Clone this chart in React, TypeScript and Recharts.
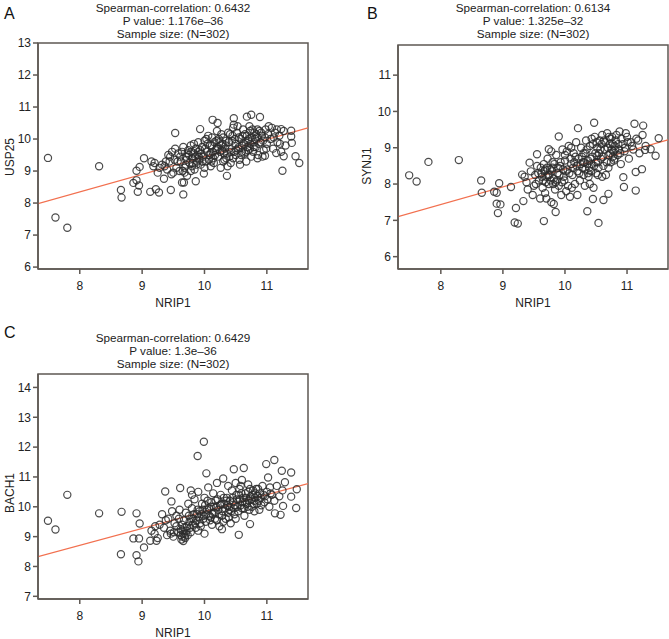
import React from 'react';
import { ScatterChart, Scatter, XAxis, YAxis, ReferenceLine, ReferenceArea } from 'recharts';

// NRIP1 vs USP25 (panel A)
const usp25Pairs: number[][] = [
  [7.49, 9.41], [7.61, 7.55], [7.8, 7.23], [8.31, 9.15], [8.66, 8.41], [8.67, 8.17], [8.86, 8.63],
  [8.93, 8.35], [8.95, 8.55], [8.91, 8.71], [8.91, 9.01], [8.96, 9.13], [9.03, 9.4], [9.13, 8.35],
  [9.22, 8.43], [9.27, 8.33], [9.35, 8.76], [9.46, 8.41], [9.53, 10.19], [9.66, 8.27], [9.64, 8.64],
  [9.67, 8.64], [9.86, 8.68], [9.99, 8.92], [9.93, 10.31], [10.13, 10.6], [10.21, 10.5], [10.36, 8.85],
  [10.47, 10.65], [10.68, 10.7], [10.75, 10.76], [10.89, 10.69], [10.97, 9.48], [11.15, 9.56],
  [11.25, 9.01], [11.27, 9.46], [11.39, 10.26], [11.4, 9.88], [11.46, 9.46], [11.52, 9.25],
  [11.39, 10.08], [11.23, 10.31],
  [9.15, 9.3], [9.2, 9.25], [9.25, 8.95], [9.28, 9.1], [9.18, 9.15],
  [9.32, 9.2], [9.38, 9.3], [9.4, 9.05], [9.45, 9.45], [9.48, 9.6], [9.5, 8.95], [9.52, 9.35],
  [9.55, 9.1], [9.58, 9.55], [9.6, 9.0], [9.42, 9.5], [9.36, 9.15], [9.47, 8.9],
  [9.62, 9.3], [9.64, 9.6], [9.66, 9.75], [9.68, 9.1], [9.7, 9.45], [9.72, 8.85], [9.74, 9.65],
  [9.76, 9.25], [9.78, 9.8], [9.8, 9.4], [9.82, 9.55], [9.84, 9.05], [9.86, 9.7], [9.88, 9.3],
  [9.9, 9.9], [9.65, 9.0], [9.7, 9.2], [9.75, 9.5], [9.8, 9.15], [9.85, 9.45], [9.9, 9.6],
  [9.68, 8.95], [9.78, 9.0],
  [9.92, 9.35], [9.94, 9.2], [9.96, 9.75], [9.98, 9.45], [10.0, 9.95], [10.02, 9.3], [10.04, 9.6],
  [10.06, 10.1], [10.08, 9.5], [10.1, 9.15], [10.12, 9.8], [10.14, 9.4], [10.16, 9.9], [10.18, 9.65],
  [10.2, 10.25], [9.95, 9.55], [10.0, 9.1], [10.05, 9.85], [10.1, 9.55], [10.15, 9.25], [10.2, 9.7],
  [10.03, 10.0], [10.12, 10.05],
  [10.22, 9.45], [10.24, 9.9], [10.26, 9.1], [10.28, 9.65], [10.3, 10.05], [10.32, 9.35], [10.34, 9.8],
  [10.36, 9.55], [10.38, 10.2], [10.4, 9.7], [10.42, 9.25], [10.44, 9.95], [10.46, 10.35], [10.48, 9.6],
  [10.5, 9.85], [10.25, 9.6], [10.3, 9.3], [10.35, 9.95], [10.4, 9.45], [10.45, 10.1], [10.5, 9.5],
  [10.27, 10.15], [10.37, 9.15], [10.47, 10.45], [10.33, 9.7],
  [10.52, 10.2], [10.54, 9.7], [10.56, 9.35], [10.58, 10.0], [10.6, 9.8], [10.62, 10.3], [10.64, 9.55],
  [10.66, 9.9], [10.68, 10.1], [10.7, 9.65], [10.72, 10.4], [10.74, 9.85], [10.76, 10.05], [10.78, 9.6],
  [10.8, 10.2], [10.55, 10.05], [10.6, 9.6], [10.65, 10.15], [10.7, 9.95], [10.75, 9.45], [10.8, 9.9],
  [10.57, 9.2], [10.67, 9.3], [10.73, 10.25],
  [10.82, 9.75], [10.84, 10.05], [10.86, 9.5], [10.88, 10.25], [10.9, 9.9], [10.92, 10.1], [10.95, 9.65],
  [10.98, 10.3], [11.0, 9.85], [11.03, 10.4], [11.06, 10.0], [11.1, 9.7], [11.13, 10.2], [11.17, 9.9],
  [11.2, 10.1], [11.23, 9.6], [11.27, 10.25], [11.3, 9.8], [10.85, 9.4], [10.93, 9.45], [11.08, 10.35],
  [10.21, 9.75], [10.23, 10.0], [10.29, 9.85], [10.31, 9.55], [10.39, 9.9], [10.41, 10.15], [10.43, 9.6],
  [10.49, 10.0], [10.51, 9.65], [10.53, 10.4], [10.59, 9.5], [10.61, 10.1], [10.63, 9.85], [10.69, 9.75],
  [10.71, 10.0], [10.77, 10.3], [10.79, 9.75], [10.81, 10.0], [10.83, 10.15], [10.87, 9.85], [10.91, 10.2],
  [10.94, 9.95], [10.97, 10.05], [10.99, 9.7], [11.02, 10.15], [11.11, 10.05], [11.16, 10.3], [11.21, 9.85],
  [9.91, 9.45], [9.93, 9.65], [9.97, 9.3], [10.01, 9.7], [10.07, 9.35], [10.09, 9.8], [10.11, 9.3],
  [10.17, 9.5], [10.19, 9.95], [9.71, 9.35], [9.73, 9.55], [9.79, 9.6], [9.81, 9.25], [9.83, 9.85],
  [9.87, 9.2], [9.89, 9.5], [9.57, 9.3], [9.61, 9.45], [9.53, 9.7], [9.44, 9.3], [10.46, 9.4],
  [10.55, 9.75], [10.66, 9.6], [10.85, 10.3], [10.73, 9.7], [10.35, 9.4], [10.27, 9.8], [10.13, 9.6],
];

// NRIP1 vs SYNJ1 (panel B)
const synj1Pairs: number[][] = [
  [7.49, 8.24], [7.61, 8.07], [7.8, 8.61], [8.29, 8.66], [8.65, 8.1], [8.66, 7.76], [8.86, 7.79],
  [8.9, 7.76], [8.94, 8.02], [8.9, 7.46], [8.96, 7.44], [8.92, 7.2], [9.13, 7.92], [9.21, 7.34],
  [9.19, 6.94], [9.24, 6.91], [9.33, 7.53], [9.31, 8.26], [9.43, 8.59], [9.55, 8.82], [9.66, 6.98],
  [9.74, 8.96], [9.82, 7.45], [9.85, 7.23], [9.9, 9.31], [10.21, 9.54], [10.36, 7.25], [10.47, 9.69],
  [10.52, 8.78], [10.54, 6.93], [10.45, 7.59], [10.62, 7.56], [10.7, 7.73], [10.95, 7.92], [10.94, 8.19],
  [11.14, 7.82], [11.12, 9.66], [11.26, 9.61], [11.14, 8.33], [11.24, 8.41], [11.46, 8.78], [11.51, 9.26],
  [11.38, 8.96], [11.29, 8.94],
  [9.35, 8.2], [9.4, 7.85], [9.45, 8.35], [9.5, 7.95], [9.55, 8.5], [9.58, 8.1], [9.38, 8.05],
  [9.48, 7.7], [9.52, 8.25], [9.6, 7.6],
  [9.62, 8.3], [9.64, 7.9], [9.66, 8.55], [9.68, 7.75], [9.7, 8.2], [9.72, 8.7], [9.74, 8.0],
  [9.76, 8.4], [9.78, 7.5], [9.8, 8.6], [9.82, 8.15], [9.84, 7.85], [9.86, 8.8], [9.88, 8.3],
  [9.9, 7.95], [9.65, 8.1], [9.7, 7.6], [9.75, 8.25], [9.8, 8.45], [9.85, 8.05], [9.68, 8.4], [9.78, 8.9],
  [9.92, 8.5], [9.94, 7.7], [9.96, 8.95], [9.98, 8.2], [10.0, 8.65], [10.02, 7.8], [10.04, 8.4],
  [10.06, 9.05], [10.08, 7.65], [10.1, 8.55], [10.12, 8.25], [10.14, 8.85], [10.16, 8.0], [10.18, 9.15],
  [10.2, 8.35], [9.95, 8.05], [10.0, 8.8], [10.05, 7.95], [10.1, 9.0], [10.15, 8.6], [10.2, 7.7],
  [10.22, 8.7], [10.24, 8.1], [10.26, 9.0], [10.28, 8.45], [10.3, 8.85], [10.32, 7.95], [10.34, 9.2],
  [10.36, 8.55], [10.38, 8.2], [10.4, 9.05], [10.42, 8.35], [10.44, 8.75], [10.46, 7.9], [10.48, 9.3],
  [10.5, 8.6], [10.25, 8.55], [10.3, 8.25], [10.35, 8.95], [10.4, 8.0], [10.45, 9.1], [10.5, 8.3],
  [10.27, 8.75], [10.37, 8.65], [10.43, 9.25], [10.33, 8.4],
  [10.52, 9.0], [10.54, 8.45], [10.56, 9.2], [10.58, 8.7], [10.6, 9.35], [10.62, 8.5], [10.64, 8.95],
  [10.66, 8.25], [10.68, 9.4], [10.7, 8.8], [10.72, 9.1], [10.74, 8.6], [10.76, 9.3], [10.78, 8.9],
  [10.8, 9.05], [10.55, 8.85], [10.6, 8.2], [10.65, 9.15], [10.7, 8.45], [10.75, 8.95], [10.8, 8.7],
  [10.73, 9.25], [10.77, 8.75],
  [10.82, 9.2], [10.85, 8.8], [10.88, 9.45], [10.9, 8.55], [10.93, 9.1], [10.96, 8.9], [11.0, 9.3],
  [11.03, 8.7], [11.06, 9.15], [11.1, 8.95], [11.15, 9.25], [11.2, 8.85], [11.25, 9.35], [11.3, 9.05],
  [10.87, 8.95], [10.98, 9.4], [11.08, 9.05], [11.18, 9.2],
  [10.31, 8.6], [10.33, 8.85], [10.39, 8.45], [10.41, 8.7], [10.47, 8.5], [10.49, 8.85], [10.51, 9.15],
  [10.53, 8.6], [10.57, 8.95], [10.59, 9.1], [10.61, 8.75], [10.63, 9.2], [10.67, 8.6], [10.69, 9.0],
  [10.71, 9.3], [10.73, 8.85], [10.77, 9.1], [10.79, 8.65], [10.81, 8.95], [10.83, 9.35], [10.86, 9.1],
  [10.89, 8.85], [10.91, 9.25], [10.97, 9.0], [11.01, 9.15], [9.63, 8.2], [9.67, 8.35], [9.69, 8.05],
  [9.71, 8.45], [9.73, 8.25], [9.77, 8.1], [9.79, 8.35], [9.81, 8.0], [9.83, 8.55], [9.87, 8.1],
  [9.89, 8.45], [9.91, 8.25], [9.93, 8.6], [9.97, 8.4], [9.99, 8.1], [10.01, 8.35], [10.03, 8.9],
  [10.07, 8.3], [10.09, 8.7], [10.11, 7.9], [10.13, 8.45], [10.17, 8.75], [10.19, 8.5], [10.23, 8.3],
  [10.29, 8.6], [9.57, 8.3], [9.53, 8.0], [9.61, 8.45], [10.43, 8.55], [10.37, 8.3], [10.53, 8.25],
];

// NRIP1 vs BACH1 (panel C)
const bach1Pairs: number[][] = [
  [7.49, 9.53], [7.61, 9.24], [7.8, 10.4], [8.31, 9.78], [8.67, 9.83], [8.66, 8.41], [8.91, 9.78],
  [8.96, 9.44], [8.86, 8.94], [8.95, 8.94], [8.91, 8.38], [8.94, 8.17], [9.03, 8.64], [9.13, 8.86],
  [9.21, 9.35], [9.23, 8.86], [9.37, 10.51], [9.47, 10.18], [9.61, 10.63], [9.89, 11.7], [9.99, 12.18],
  [10.03, 11.12], [10.47, 11.26], [10.63, 11.3], [10.55, 9.06], [10.73, 9.42], [10.99, 11.43],
  [11.12, 11.57], [11.02, 10.98], [11.24, 11.21], [11.29, 10.82], [11.39, 11.15], [11.48, 10.59],
  [11.47, 9.96], [11.39, 10.34], [11.22, 9.73], [11.13, 9.78], [11.26, 10.03],
  [9.15, 9.2], [9.25, 8.95], [9.28, 9.4], [9.2, 9.1],
  [9.32, 9.75], [9.35, 9.3], [9.4, 9.05], [9.42, 9.6], [9.45, 9.2], [9.48, 9.85], [9.5, 9.0],
  [9.52, 9.45], [9.55, 9.7], [9.58, 9.15], [9.6, 9.9], [9.38, 9.55], [9.46, 9.1],
  [9.62, 9.05], [9.63, 8.9], [9.65, 9.2], [9.66, 8.85], [9.67, 9.55], [9.68, 9.0], [9.7, 9.8],
  [9.72, 9.35], [9.74, 10.1], [9.76, 9.5], [9.78, 9.15], [9.8, 9.95], [9.82, 9.6], [9.84, 10.25],
  [9.86, 9.3], [9.88, 9.75], [9.9, 10.5], [9.64, 9.4], [9.7, 9.1], [9.75, 9.7], [9.8, 10.4],
  [9.85, 9.45], [9.9, 9.2], [9.78, 10.55],
  [9.92, 9.85], [9.94, 9.35], [9.96, 10.1], [9.98, 9.6], [10.0, 10.3], [10.02, 9.5], [10.04, 9.9],
  [10.06, 10.65], [10.08, 9.7], [10.1, 10.0], [10.12, 9.4], [10.14, 10.45], [10.16, 9.8], [10.18, 10.2],
  [10.2, 9.55], [9.95, 9.75], [10.0, 9.1], [10.05, 10.2], [10.1, 9.65], [10.15, 10.0], [10.2, 10.8],
  [10.22, 9.9], [10.24, 9.35], [10.26, 10.4], [10.28, 9.7], [10.3, 10.95], [10.32, 10.1], [10.34, 9.6],
  [10.36, 10.3], [10.38, 9.8], [10.4, 10.0], [10.42, 9.45], [10.44, 10.55], [10.46, 10.15], [10.48, 9.75],
  [10.5, 10.8], [10.25, 10.05], [10.3, 9.5], [10.35, 10.2], [10.4, 9.9], [10.45, 10.3], [10.5, 9.6],
  [10.28, 9.25], [10.38, 10.7], [10.47, 9.95],
  [10.52, 10.25], [10.54, 9.85], [10.56, 10.6], [10.58, 10.05], [10.6, 10.9], [10.62, 10.3], [10.64, 9.7],
  [10.66, 10.45], [10.68, 10.1], [10.7, 10.75], [10.72, 9.9], [10.74, 10.35], [10.76, 10.0], [10.78, 10.55],
  [10.8, 10.2], [10.55, 10.4], [10.6, 9.95], [10.65, 10.15], [10.7, 10.5], [10.75, 10.25], [10.8, 9.85],
  [10.58, 10.7],
  [10.82, 10.45], [10.84, 10.1], [10.86, 10.6], [10.88, 9.9], [10.9, 10.3], [10.93, 10.7], [10.96, 10.15],
  [11.0, 10.5], [11.04, 10.0], [11.08, 10.4], [11.12, 10.2], [11.16, 10.7], [11.2, 10.35], [11.25, 10.55],
  [10.85, 10.35], [10.95, 10.4], [11.05, 10.65],
  [9.62, 9.25], [9.64, 9.0], [9.66, 9.1], [9.68, 9.3], [9.69, 8.95], [9.71, 9.2], [9.73, 9.05],
  [9.77, 9.3], [9.79, 9.6], [9.81, 9.4], [9.83, 9.75], [9.87, 9.55], [9.89, 9.9], [9.91, 9.65],
  [9.93, 9.45], [9.97, 9.9], [9.99, 9.7], [10.01, 10.05], [10.03, 9.75], [10.07, 9.95], [10.09, 9.55],
  [10.11, 10.15], [10.13, 9.75], [10.17, 9.6], [10.19, 10.0], [10.21, 10.25], [10.23, 9.75], [10.27, 10.1],
  [10.29, 9.85], [10.31, 10.3], [10.33, 9.95], [10.37, 10.05], [10.39, 9.65], [10.41, 10.2], [10.43, 9.85],
  [10.49, 10.05], [10.51, 10.4], [10.53, 10.0], [10.57, 10.25], [10.59, 10.45], [10.61, 10.15], [10.63, 9.95],
  [10.67, 10.3], [10.69, 10.0], [10.71, 10.2], [10.73, 10.6], [10.77, 10.4], [10.79, 10.1], [10.81, 10.3],
  [10.83, 10.6], [10.87, 10.2], [10.89, 10.45], [10.91, 10.05], [10.97, 10.35], [11.01, 10.25], [11.06, 10.45],
  [9.55, 9.35], [9.59, 9.6], [9.51, 9.15],
];

// fitted lines (end points at the plot edges)
const usp25Fit = [{ x: 7.33, y: 7.98 }, { x: 11.66, y: 10.35 }];
const synj1Fit = [{ x: 7.31, y: 7.1 }, { x: 11.66, y: 9.22 }];
const bach1Fit = [{ x: 7.33, y: 8.33 }, { x: 11.66, y: 10.78 }];

const xTicks = [8, 9, 10, 11];
const usp25Ticks = [6, 7, 8, 9, 10, 11, 12, 13];
const synj1Ticks = [6, 7, 8, 9, 10, 11];
const bach1Ticks = [7, 8, 9, 10, 11, 12, 13, 14];

const FONT = '"Liberation Sans", Arial, Helvetica, sans-serif';
const AXIS = '#5e5853';

const toPoints = (pairs: number[][]) => pairs.map(([x, y]) => ({ x, y }));

const Ring = (props: any) => {
  const { cx, cy } = props;
  if (cx == null || cy == null) return null;
  return <circle cx={cx} cy={cy} r={3.6} fill="none" stroke="#2c2c2c" strokeOpacity={0.85} strokeWidth={1.2} />;
};

type PanelProps = {
  left: number;
  top: number;
  width: number;
  height: number;
  marginTop: number;
  marginRight: number;
  yWidth: number;
  xHeight: number;
  xDomain: [number, number];
  yDomain: [number, number];
  yTicks: number[];
  pairs: number[][];
  fit: { x: number; y: number }[];
};

const Panel: React.FC<PanelProps> = (p) => {
  const tickStyle = { fontSize: 12, fill: '#222', fontFamily: FONT };
  return (
    <div style={{ position: 'absolute', left: p.left, top: p.top }}>
      <ScatterChart width={p.width} height={p.height} margin={{ top: p.marginTop, right: p.marginRight, bottom: 0, left: 0 }}>
        <XAxis
          type="number" dataKey="x" domain={p.xDomain} ticks={xTicks} allowDataOverflow
          height={p.xHeight} stroke={AXIS} strokeWidth={1.5} tickSize={5} tickMargin={7} tick={tickStyle}
        />
        <YAxis
          type="number" dataKey="y" domain={p.yDomain} ticks={p.yTicks} allowDataOverflow
          width={p.yWidth} stroke={AXIS} strokeWidth={1.5} tickSize={5} tickMargin={2} tick={tickStyle}
        />
        <ReferenceArea
          x1={p.xDomain[0]} x2={p.xDomain[1]} y1={p.yDomain[0]} y2={p.yDomain[1]}
          fill="none" stroke={AXIS} strokeWidth={1.5} fillOpacity={0} ifOverflow="visible"
        />
        <Scatter data={toPoints(p.pairs)} shape={Ring} isAnimationActive={false} />
        <ReferenceLine segment={p.fit} stroke="#f2704f" strokeWidth={1.2} ifOverflow="hidden" />
      </ScatterChart>
    </div>
  );
};

const Title: React.FC<{ left: number; top: number; width: number; lines: string[] }> = ({ left, top, width, lines }) => (
  <div style={{ position: 'absolute', left, top, width, textAlign: 'center', fontFamily: FONT, fontSize: 11.7, lineHeight: '13px', color: '#222' }}>
    {lines.map((l) => <div key={l}>{l}</div>)}
  </div>
);

const Letter: React.FC<{ left: number; top: number; text: string }> = ({ left, top, text }) => (
  <div style={{ position: 'absolute', left, top, fontFamily: FONT, fontSize: 16, lineHeight: '16px', color: '#111' }}>{text}</div>
);

const AxisName: React.FC<{ cx: number; cy: number; text: string; rotate?: boolean }> = ({ cx, cy, text, rotate }) => (
  <div
    style={{
      position: 'absolute', left: cx - 40, top: cy - 8, width: 80, height: 16, lineHeight: '16px',
      textAlign: 'center', fontFamily: FONT, fontSize: 12, color: '#222',
      transform: rotate ? 'rotate(-90deg)' : undefined,
    }}
  >
    {text}
  </div>
);

export default function App() {
  return (
    <div style={{ position: 'absolute', left: 0, top: 0, width: 669, height: 639, overflow: 'hidden', background: '#fff' }}>
      <Letter left={4} top={6} text="A" />
      <Title left={73} top={0.5} width={200} lines={['Spearman-correlation: 0.6432', 'P value: 1.176e\u201336', 'Sample size: (N=302)']} />
      <Panel
        left={0} top={0} width={320} height={320} marginTop={43} marginRight={12} yWidth={38} xHeight={51}
        xDomain={[7.33, 11.66]} yDomain={[5.94, 13]} yTicks={usp25Ticks} pairs={usp25Pairs} fit={usp25Fit}
      />
      <AxisName cx={10} cy={157} text="USP25" rotate />
      <AxisName cx={173} cy={302.5} text="NRIP1" />

      <Letter left={367} top={6} text="B" />
      <Title left={433} top={0.5} width={200} lines={['Spearman-correlation: 0.6134', 'P value: 1.325e\u201332', 'Sample size: (N=302)']} />
      <Panel
        left={340} top={0} width={329} height={320} marginTop={45} marginRight={1} yWidth={58} xHeight={51}
        xDomain={[7.31, 11.66]} yDomain={[5.66, 11.83]} yTicks={synj1Ticks} pairs={synj1Pairs} fit={synj1Fit}
      />
      <AxisName cx={367} cy={166} text="SYNJ1" rotate />
      <AxisName cx={533} cy={302.5} text="NRIP1" />

      <Letter left={4} top={325} text="C" />
      <Title left={73} top={330.5} width={200} lines={['Spearman-correlation: 0.6429', 'P value: 1.3e\u201336', 'Sample size: (N=302)']} />
      <Panel
        left={0} top={330} width={320} height={309} marginTop={44} marginRight={12} yWidth={38} xHeight={40}
        xDomain={[7.33, 11.66]} yDomain={[6.91, 14.45]} yTicks={bach1Ticks} pairs={bach1Pairs} fit={bach1Fit}
      />
      <AxisName cx={10} cy={493} text="BACH1" rotate />
      <AxisName cx={173} cy={632.5} text="NRIP1" />
    </div>
  );
}
